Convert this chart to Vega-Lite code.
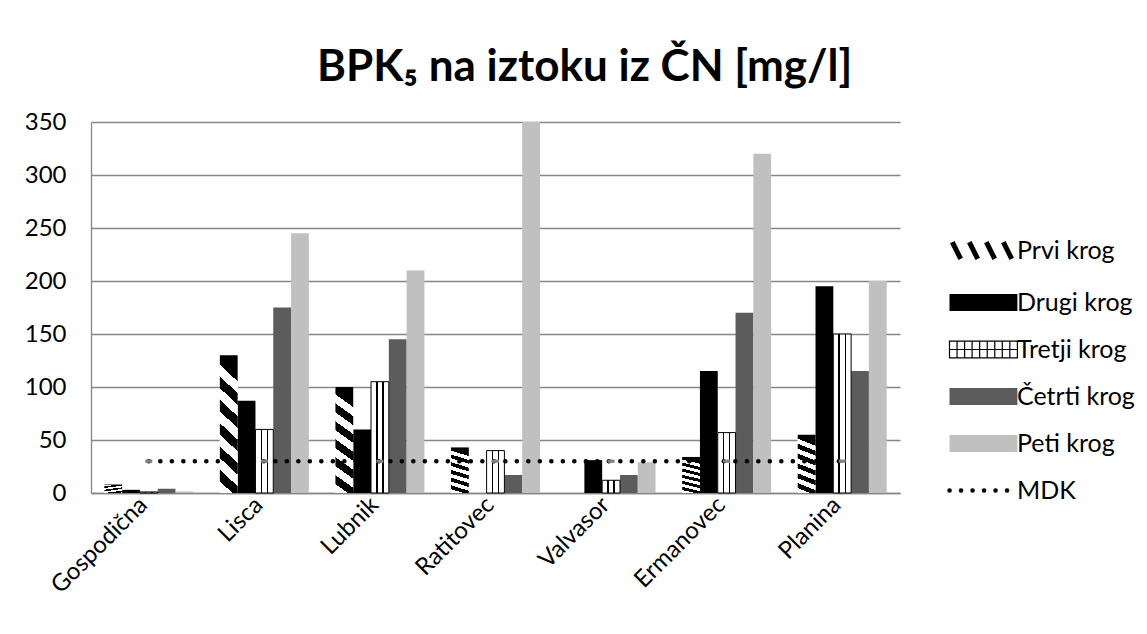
{
  "$schema": "https://vega.github.io/schema/vega-lite/v6.json",
  "width": 809,
  "height": 371,
  "autosize": {"type": "none"},
  "padding": {"left": 91, "top": 122, "right": 247, "bottom": 141},
  "background": "white",
  "config": {
    "font": "Lato",
    "view": {"stroke": null},
    "axis": {"labelColor": "black", "labelFont": "Lato", "labelFontSize": 24}
  },
  "title": {
    "text": "BPK₅ na iztoku iz ČN [mg/l]",
    "font": "Lato",
    "fontSize": 44,
    "fontWeight": "bold",
    "color": "black",
    "anchor": "middle",
    "frame": "bounds",
    "baseline": "alphabetic",
    "offset": 23,
    "dy": 38,
    "dx": 5
  },
  "data": {
    "values": [
      {"category": "Gospodična", "series": "Prvi krog", "value": 8},
      {"category": "Gospodična", "series": "Drugi krog", "value": 3},
      {"category": "Gospodična", "series": "Tretji krog", "value": 1},
      {"category": "Gospodična", "series": "Četrti krog", "value": 4},
      {"category": "Gospodična", "series": "Peti krog", "value": 1.5},
      {"category": "Lisca", "series": "Prvi krog", "value": 130},
      {"category": "Lisca", "series": "Drugi krog", "value": 87},
      {"category": "Lisca", "series": "Tretji krog", "value": 60},
      {"category": "Lisca", "series": "Četrti krog", "value": 175},
      {"category": "Lisca", "series": "Peti krog", "value": 245},
      {"category": "Lubnik", "series": "Prvi krog", "value": 100},
      {"category": "Lubnik", "series": "Drugi krog", "value": 60},
      {"category": "Lubnik", "series": "Tretji krog", "value": 105},
      {"category": "Lubnik", "series": "Četrti krog", "value": 145},
      {"category": "Lubnik", "series": "Peti krog", "value": 210},
      {"category": "Ratitovec", "series": "Prvi krog", "value": 43},
      {"category": "Ratitovec", "series": "Drugi krog", "value": 0},
      {"category": "Ratitovec", "series": "Tretji krog", "value": 40},
      {"category": "Ratitovec", "series": "Četrti krog", "value": 17},
      {"category": "Ratitovec", "series": "Peti krog", "value": 350},
      {"category": "Valvasor", "series": "Prvi krog", "value": 0},
      {"category": "Valvasor", "series": "Drugi krog", "value": 31},
      {"category": "Valvasor", "series": "Tretji krog", "value": 12},
      {"category": "Valvasor", "series": "Četrti krog", "value": 17},
      {"category": "Valvasor", "series": "Peti krog", "value": 29},
      {"category": "Ermanovec", "series": "Prvi krog", "value": 34},
      {"category": "Ermanovec", "series": "Drugi krog", "value": 115},
      {"category": "Ermanovec", "series": "Tretji krog", "value": 57},
      {"category": "Ermanovec", "series": "Četrti krog", "value": 170},
      {"category": "Ermanovec", "series": "Peti krog", "value": 320},
      {"category": "Planina", "series": "Prvi krog", "value": 55},
      {"category": "Planina", "series": "Drugi krog", "value": 195},
      {"category": "Planina", "series": "Tretji krog", "value": 150},
      {"category": "Planina", "series": "Četrti krog", "value": 115},
      {"category": "Planina", "series": "Peti krog", "value": 200},
      {"category": "Gospodična", "series": "MDK", "value": 30},
      {"category": "Lisca", "series": "MDK", "value": 30},
      {"category": "Lubnik", "series": "MDK", "value": 30},
      {"category": "Ratitovec", "series": "MDK", "value": 30},
      {"category": "Valvasor", "series": "MDK", "value": 30},
      {"category": "Ermanovec", "series": "MDK", "value": 30},
      {"category": "Planina", "series": "MDK", "value": 30}
    ]
  },
  "encoding": {
    "x": {
      "field": "category",
      "type": "nominal",
      "sort": null,
      "scale": {"paddingInner": 0.23, "paddingOuter": 0.115},
      "axis": {
        "title": null,
        "labelAngle": -45,
        "labelAlign": "right",
        "labelBaseline": "middle",
        "labelPadding": 8,
        "labelOffset": -5,
        "ticks": false,
        "domainColor": "#868686",
        "domainWidth": 1.3,
        "grid": false
      }
    },
    "y": {
      "field": "value",
      "type": "quantitative",
      "scale": {"domain": [0, 350], "nice": false},
      "axis": {
        "title": null,
        "values": [0, 50, 100, 150, 200, 250, 300, 350],
        "ticks": false,
        "labelPadding": 25,
        "domainColor": "#868686",
        "domainWidth": 1.3,
        "grid": true,
        "gridColor": "#868686",
        "gridWidth": 1.3
      }
    },
    "xOffset": {
      "field": "series",
      "type": "nominal",
      "scale": {
        "domain": ["Prvi krog", "Drugi krog", "Tretji krog", "Četrti krog", "Peti krog"],
        "paddingInner": 0,
        "paddingOuter": 0
      }
    }
  },
  "layer": [
    {
      "transform": [{"filter": "datum.series !== 'MDK'"}],
      "mark": {"type": "bar"},
      "encoding": {
        "color": {
          "field": "series",
          "type": "nominal",
          "scale": {
            "domain": ["Prvi krog", "Drugi krog", "Tretji krog", "Četrti krog", "Peti krog", "MDK"],
            "range": ["#ffffff", "#000000", "#ffffff", "#5c5c5c", "#c0c0c0", "#000000"]
          },
          "legend": {
            "orient": "none",
            "legendX": 853,
            "legendY": 116,
            "title": null,
            "labelFont": "Lato",
            "labelFontSize": 25,
            "labelColor": "black",
            "symbolType": "M-1,-1.2H8.7V1.2H-1Z",
            "symbolSize": 196,
            "symbolStrokeWidth": 1,
            "labelOffset": 48,
            "rowPadding": 21,
            "encode": {
              "symbols": {
                "update": {
                  "shape": {"signal": "datum.value === 'MDK' ? 'M-1,0H8.7' : datum.value === 'Prvi krog' ? 'M-0.6,-1.2L0.6,1.2M1.83,-1.2L3.03,1.2M4.26,-1.2L5.46,1.2M6.69,-1.2L7.89,1.2' : datum.value === 'Tretji krog' ? 'M-1,-1.2H8.7V1.2H-1ZM0.08,-1.2V1.2M1.16,-1.2V1.2M2.23,-1.2V1.2M3.31,-1.2V1.2M4.39,-1.2V1.2M5.47,-1.2V1.2M6.54,-1.2V1.2M7.62,-1.2V1.2M-1,0H8.7' : 'M-1,-1.2H8.7V1.2H-1Z'"},
                  "stroke": {"signal": "datum.value === 'MDK' || datum.value === 'Tretji krog' || datum.value === 'Prvi krog' ? '#000000' : 'transparent'"},
                  "strokeWidth": {"signal": "datum.value === 'MDK' ? 4.5 : datum.value === 'Prvi krog' ? 5 : 1.2"},
                  "strokeDash": {"signal": "datum.value === 'MDK' ? [0.1, 11.4] : null"},
                  "strokeCap": {"signal": "datum.value === 'MDK' ? 'round' : 'butt'"},
                  "opacity": {"value": 1}
                }
              }
            }
          }
        }
      }
    },
    {
      "transform": [{"filter": "datum.series === 'Prvi krog'"}],
      "mark": {
        "type": "bar",
        "fill": {"gradient": "linear", "x1": 0.12, "y1": 0, "x2": 0, "y2": 1, "stops": [
          {"offset": 0, "color": "#000000"}, {"offset": 0.0833, "color": "#000000"},
          {"offset": 0.0833, "color": "#ffffff"}, {"offset": 0.1667, "color": "#ffffff"},
          {"offset": 0.1667, "color": "#000000"}, {"offset": 0.25, "color": "#000000"},
          {"offset": 0.25, "color": "#ffffff"}, {"offset": 0.3333, "color": "#ffffff"},
          {"offset": 0.3333, "color": "#000000"}, {"offset": 0.4167, "color": "#000000"},
          {"offset": 0.4167, "color": "#ffffff"}, {"offset": 0.5, "color": "#ffffff"},
          {"offset": 0.5, "color": "#000000"}, {"offset": 0.5833, "color": "#000000"},
          {"offset": 0.5833, "color": "#ffffff"}, {"offset": 0.6667, "color": "#ffffff"},
          {"offset": 0.6667, "color": "#000000"}, {"offset": 0.75, "color": "#000000"},
          {"offset": 0.75, "color": "#ffffff"}, {"offset": 0.8333, "color": "#ffffff"},
          {"offset": 0.8333, "color": "#000000"}, {"offset": 0.9167, "color": "#000000"},
          {"offset": 0.9167, "color": "#ffffff"}, {"offset": 1, "color": "#ffffff"}
        ]}
      }
    },
    {
      "transform": [{"filter": "datum.series === 'Tretji krog'"}],
      "mark": {
        "type": "bar",
        "stroke": "#000000",
        "strokeWidth": 1,
        "fill": {"gradient": "linear", "x1": 0, "y1": 0, "x2": 1, "y2": 0, "stops": [
          {"offset": 0, "color": "#ffffff"}, {"offset": 0.29, "color": "#ffffff"},
          {"offset": 0.29, "color": "#000000"}, {"offset": 0.37, "color": "#000000"},
          {"offset": 0.37, "color": "#ffffff"}, {"offset": 0.63, "color": "#ffffff"},
          {"offset": 0.63, "color": "#000000"}, {"offset": 0.71, "color": "#000000"},
          {"offset": 0.71, "color": "#ffffff"}, {"offset": 1, "color": "#ffffff"}
        ]}
      }
    },
    {
      "transform": [{"filter": "datum.series === 'MDK'"}],
      "mark": {"type": "line", "color": "#000000", "strokeWidth": 4.5, "strokeDash": [0.1, 11.4], "strokeCap": "round"},
      "encoding": {"xOffset": null}
    },
    {
      "transform": [{"filter": "datum.series === 'MDK'"}],
      "mark": {"type": "point", "shape": "M-1,-0.45H1V0.45H-1Z", "filled": true, "color": "#808080", "size": 49, "opacity": 1},
      "encoding": {"xOffset": null}
    }
  ]
}
